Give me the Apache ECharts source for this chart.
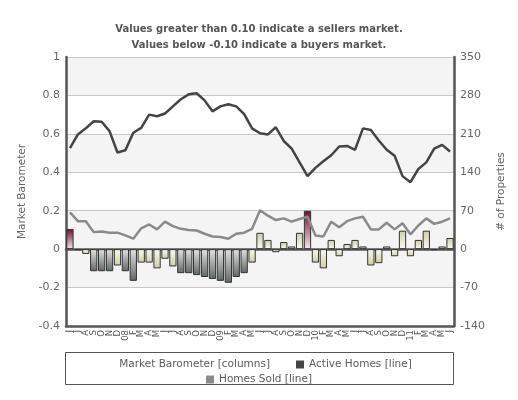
<!DOCTYPE html>
<html><head><meta charset="utf-8">
<script src="https://cdn.jsdelivr.net/npm/echarts@6/dist/echarts.min.js"></script>
<style>html,body{margin:0;padding:0;background:#fff}#c{width:518px;height:400px}</style>
</head><body><div id="c"></div>
<script>
const months = ['J','J','A','S','O','N','D','08','F','M','A','M','J','J','A','S','O','N','D','09','F','M','A','M','J','J','A','S','O','N','D','10','F','M','A','M','J','J','A','S','O','N','D','11','F','M','A','M','J'];
const barometer = [0.105,-0.005,-0.025,-0.115,-0.115,-0.115,-0.085,-0.115,-0.165,-0.07,-0.07,-0.10,-0.05,-0.09,-0.125,-0.125,-0.135,-0.145,-0.155,-0.165,-0.175,-0.145,-0.125,-0.07,0.085,0.048,-0.016,0.037,0.014,0.085,0.2,-0.07,-0.10,0.048,-0.037,0.027,0.048,0.014,-0.085,-0.073,0.014,-0.037,0.096,-0.037,0.048,0.096,-0.005,0.014,0.058];
const activeHomes = [184,209,220,233,232,215,176,180,212,221,245,242,247,260,273,282,284,271,251,260,264,260,246,220,211,209,222,197,183,158,133,148,160,171,187,188,181,220,217,198,181,170,133,122,146,158,183,190,178];
const homesSold = [67,51,51,31,32,30,30,25,19,38,45,36,50,42,37,35,34,28,23,22,19,28,30,37,71,61,53,56,50,55,59,25,23,50,40,51,56,59,36,36,48,36,47,27,43,56,46,50,56];
const leftTicks = {min:-0.4, max:1, interval:0.2};
const rightTicks = {min:-140, max:350, interval:70};

function grad(v){
  let dark, light;
  if (v > 0.1) { dark = '#6a0f2f'; light = '#f6e6ec'; }
  else if (v < -0.1) { dark = '#5f6764'; light = '#e2e5e4'; }
  else { dark = '#cdcea4'; light = '#fbfbf1'; }
  const stops = v >= 0 ? [{offset:0,color:dark},{offset:1,color:light}] : [{offset:0,color:light},{offset:1,color:dark}];
  return new echarts.graphic.LinearGradient(0,0,0,1,stops);
}

const chart = echarts.init(document.getElementById('c'));
const FONT = 'DejaVu Sans';
chart.setOption({
  animation:false,
  textStyle:{fontFamily:FONT},
  title:{
    text:'Values greater than 0.10 indicate a sellers market.\nValues below -0.10 indicate a buyers market.',
    left:'center', top:16,
    textStyle:{fontFamily:FONT,fontSize:10,fontWeight:'bold',color:'#555',lineHeight:16}
  },
  legend:[
    {left:'center', top:357, padding:[2,5], itemWidth:8, itemHeight:8, itemGap:26, icon:'rect',
     textStyle:{fontFamily:FONT,fontSize:10.5,color:'#5a5a5a'},
     data:[{name:'Market Barometer [columns]', itemStyle:{color:'rgba(0,0,0,0)',borderWidth:0}}, {name:'Active Homes [line]', itemStyle:{color:'#444'}}]},
    {left:'center', top:372, padding:[2,5], itemWidth:8, itemHeight:8, icon:'rect',
     textStyle:{fontFamily:FONT,fontSize:10.5,color:'#5a5a5a'},
     data:[{name:'Homes Sold [line]', itemStyle:{color:'#8a8a8a'}}]}
  ],
  graphic:[{type:'rect', shape:{x:65.5,y:352.5,width:388,height:32}, style:{fill:'none',stroke:'#555',lineWidth:1}, silent:true}],
  grid:{left:66, right:64, top:57, bottom:74},
  xAxis:[
    {type:'category', data:months, boundaryGap:true,
     axisLine:{show:true,onZero:false,lineStyle:{color:'#555',width:2.5}},
     axisTick:{show:false},
     axisLabel:{interval:0, rotate:90, fontSize:8.5, color:'#555', margin:4}},
    {type:'category', data:months, position:'top',
     axisLine:{show:true,lineStyle:{color:'#555',width:2.5}},
     axisTick:{show:false}, axisLabel:{show:false}}
  ],
  yAxis:[
    {type:'value', min:leftTicks.min, max:leftTicks.max, interval:leftTicks.interval,
     name:'Market Barometer', nameLocation:'middle', nameRotate:90, nameGap:38,
     nameTextStyle:{fontFamily:FONT,fontSize:10.5,color:'#666'},
     axisLine:{show:true,onZero:false,lineStyle:{color:'#555',width:2.5}},
     axisTick:{show:false},
     axisLabel:{fontSize:11,color:'#666',margin:6},
     splitLine:{show:true,lineStyle:{color:'#c8c8c8',width:1}},
     splitArea:{show:true,areaStyle:{color:['#ffffff','#f4f4f4','#f4f4f4','#ffffff','#f4f4f4','#ffffff','#f4f4f4']}}},
    {type:'value', min:rightTicks.min, max:rightTicks.max, interval:rightTicks.interval, position:'right',
     name:'# of Properties', nameLocation:'middle', nameRotate:90, nameGap:38,
     nameTextStyle:{fontFamily:FONT,fontSize:10.5,color:'#666'},
     axisLine:{show:true,onZero:false,lineStyle:{color:'#555',width:2.5}},
     axisTick:{show:false},
     axisLabel:{fontSize:11,color:'#666',margin:6},
     splitLine:{show:false}}
  ],
  series:[
    {name:'Market Barometer [columns]', type:'bar', yAxisIndex:0, barCategoryGap:'8%',
     itemStyle:{color:'#c9caa0'},
     data:barometer.map(v=>({value:v, itemStyle:{color:grad(v), borderColor:'#333', borderWidth:1}}))},
    {name:'Active Homes [line]', type:'line', yAxisIndex:1, data:activeHomes, symbol:'none',
     lineStyle:{color:'#444',width:2.5}, itemStyle:{color:'#444'}},
    {name:'Homes Sold [line]', type:'line', yAxisIndex:1, data:homesSold, symbol:'none',
     lineStyle:{color:'#8a8a8a',width:2.5}, itemStyle:{color:'#8a8a8a'}}
  ]
});
</script></body></html>
